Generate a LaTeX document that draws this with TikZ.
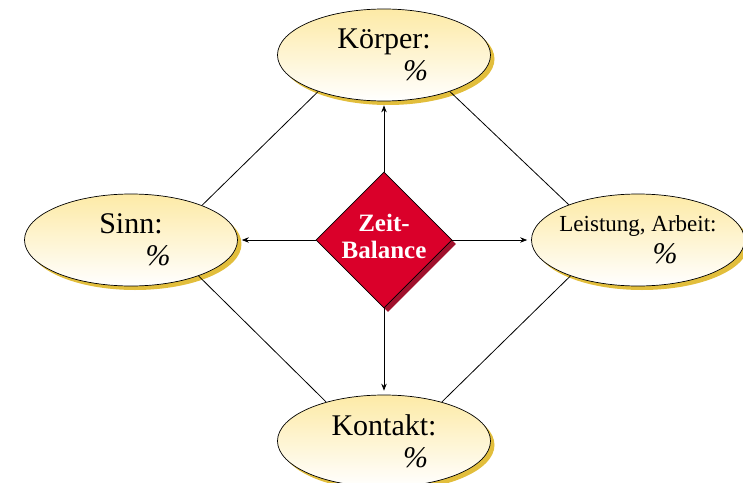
\documentclass[tikz,border=0pt]{standalone}
\usepackage{fontspec}
\setmainfont{Liberation Serif}
\usetikzlibrary{shapes.geometric,shadows,arrows.meta}

\definecolor{ellipsetop}{RGB}{253,234,166}
\definecolor{ellipseshadow}{RGB}{226,190,60}
\definecolor{balancered}{RGB}{218,0,42}
\definecolor{balanceshadow}{RGB}{160,16,44}

\tikzstyle{area_node} = [ellipse, draw=black, line width=0.7pt, top color=ellipsetop, bottom color=white,
    drop shadow={shadow xshift=4pt, shadow yshift=-4pt, fill=ellipseshadow, opacity=1},
    minimum width=213pt, minimum height=92pt, inner sep=0pt, align=center,
    font=\fontsize{30}{32}\selectfont]
\tikzstyle{balance_node} = [diamond, draw=black, line width=0.7pt, fill=balancered, aspect=1,
    drop shadow={shadow xshift=4pt, shadow yshift=-4pt, fill=balanceshadow, opacity=1},
    minimum width=136pt, minimum height=136pt, inner sep=0pt]
\tikzstyle{balance_text} = [text=white, align=center, font=\fontsize{25}{27}\selectfont\bfseries]
\tikzstyle{arrow} = [line width=0.8pt, ->, >={Stealth[length=7pt, width=5.5pt]}, shorten >=4pt]
\tikzstyle{link} = [line width=0.8pt]

\begin{document}
\begin{tikzpicture}[x=1pt, y=1pt]
    \useasboundingbox (-384,-242) rectangle (359,240);

    \node (bal) [balance_node] {};
    \node (bal_text) [balance_text, yshift=4pt] at (bal.center) {Zeit-\\Balance};

    \node (koerper)  [area_node, above of=bal, node distance=185pt] {Körper:\\\hspace*{2.1em}\textit{\%}};
    \node (sinn)     [area_node, left of=bal, node distance=253pt] {Sinn:\\\hspace*{1.8em}\textit{\%}};
    \node (leistung) [area_node, right of=bal, node distance=254pt, inner xsep=-6pt]
        {{\fontsize{23}{26}\selectfont Leistung, Arbeit:}\\\hspace*{1.8em}\textit{\%}};
    \node (kontakt)  [area_node, below of=bal, node distance=201pt] {Kontakt:\\\hspace*{2.1em}\textit{\%}};

    \draw [arrow] (bal.north) -- (koerper.south);
    \draw [arrow] (bal.west)  -- (sinn.east);
    \draw [arrow] (bal.east)  -- (leistung.west);
    \draw [arrow] (bal.south) -- (kontakt.north);

    \draw [link] (koerper.209)  -- (sinn.26);
    \draw [link] (koerper.331)  -- (leistung.153);
    \draw [link] (sinn.332)     -- (kontakt.146);
    \draw [link] (leistung.208) -- (kontakt.34);
\end{tikzpicture}
\end{document}
